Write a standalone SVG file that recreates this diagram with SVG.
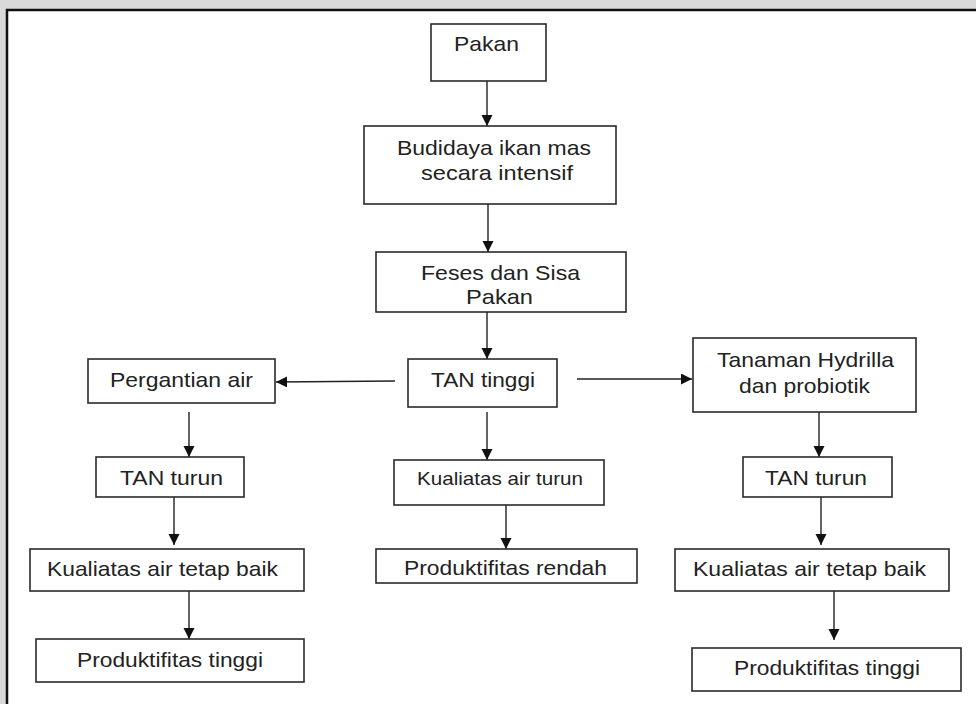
<svg xmlns="http://www.w3.org/2000/svg" width="976" height="704" viewBox="0 0 976 704">
<style>
.box{fill:#fff;stroke:#2a2a2a;stroke-width:1.6}
.t{font-family:"Liberation Sans",Arial,sans-serif;font-size:21px;fill:#222}
.c{stroke:#222;stroke-width:1.4;fill:none;marker-end:url(#ah)}
</style>
<defs>
<marker id="ah" markerUnits="userSpaceOnUse" markerWidth="12" markerHeight="12" refX="11" refY="5.5" orient="auto">
<path d="M0,0 L11,5.5 L0,11 z" fill="#111"/>
</marker>
</defs>
<rect x="0" y="0" width="976" height="704" fill="#d9d9d9"/>
<rect x="7" y="10" width="1000" height="720" fill="#fff" stroke="#111" stroke-width="2.5"/>

<g id="connectors">
<line class="c" x1="487" y1="81" x2="487" y2="126"/>
<line class="c" x1="488" y1="204" x2="488" y2="252"/>
<line class="c" x1="487" y1="312" x2="487" y2="359"/>
<line class="c" x1="395" y1="381" x2="276" y2="382"/>
<line class="c" x1="577" y1="379" x2="692" y2="379"/>
<line class="c" x1="189" y1="412" x2="189" y2="457"/>
<line class="c" x1="174" y1="497" x2="174" y2="545"/>
<line class="c" x1="189" y1="591" x2="189" y2="639"/>
<line class="c" x1="487" y1="412" x2="487" y2="460"/>
<line class="c" x1="506" y1="505" x2="506" y2="549"/>
<line class="c" x1="819" y1="412" x2="819" y2="457"/>
<line class="c" x1="821" y1="497" x2="821" y2="545"/>
<line class="c" x1="834" y1="591" x2="834" y2="640"/>
</g>

<g id="pakan"><rect class="box" x="431" y="24" width="115" height="57"/><text class="t" x="454" y="51" textLength="65" lengthAdjust="spacingAndGlyphs">Pakan</text></g>
<g id="budidaya"><rect class="box" x="364" y="126" width="252" height="78"/><text class="t" x="397" y="155" textLength="194" lengthAdjust="spacingAndGlyphs">Budidaya ikan mas</text><text class="t" x="421" y="180" textLength="152" lengthAdjust="spacingAndGlyphs">secara intensif</text></g>
<g id="feses"><rect class="box" x="376" y="252" width="250" height="60"/><text class="t" x="421" y="280" textLength="159" lengthAdjust="spacingAndGlyphs">Feses dan Sisa</text><text class="t" x="466" y="304" textLength="67" lengthAdjust="spacingAndGlyphs">Pakan</text></g>
<g id="tan-tinggi"><rect class="box" x="408" y="359" width="149" height="48"/><text class="t" x="431" y="387" textLength="104" lengthAdjust="spacingAndGlyphs">TAN tinggi</text></g>
<g id="pergantian"><rect class="box" x="88" y="359" width="187" height="44"/><text class="t" x="110" y="387" textLength="143" lengthAdjust="spacingAndGlyphs">Pergantian air</text></g>
<g id="tanaman"><rect class="box" x="693" y="338" width="223" height="74"/><text class="t" x="717" y="367" textLength="177" lengthAdjust="spacingAndGlyphs">Tanaman Hydrilla</text><text class="t" x="739" y="393" textLength="131" lengthAdjust="spacingAndGlyphs">dan probiotik</text></g>
<g id="tan-turun-kiri"><rect class="box" x="96" y="457" width="148" height="40"/><text class="t" x="120" y="485" textLength="103" lengthAdjust="spacingAndGlyphs">TAN turun</text></g>
<g id="kualitas-turun"><rect class="box" x="394" y="460" width="210" height="45"/><text class="t" x="417" y="485" textLength="166" lengthAdjust="spacingAndGlyphs" style="font-size:19px">Kualiatas  air turun</text></g>
<g id="tan-turun-kanan"><rect class="box" x="743" y="457" width="149" height="40"/><text class="t" x="765" y="485" textLength="102" lengthAdjust="spacingAndGlyphs">TAN turun</text></g>
<g id="kualitas-baik-kiri"><rect class="box" x="30" y="549" width="274" height="42"/><text class="t" x="47" y="576" textLength="231" lengthAdjust="spacingAndGlyphs">Kualiatas air tetap baik</text></g>
<g id="produktifitas-rendah"><rect class="box" x="376" y="549" width="261" height="34"/><text class="t" x="404" y="575" textLength="203" lengthAdjust="spacingAndGlyphs">Produktifitas rendah</text></g>
<g id="kualitas-baik-kanan"><rect class="box" x="675" y="549" width="274" height="42"/><text class="t" x="693" y="576" textLength="233" lengthAdjust="spacingAndGlyphs">Kualiatas air tetap baik</text></g>
<g id="produktifitas-tinggi-kiri"><rect class="box" x="36" y="639" width="268" height="43"/><text class="t" x="77" y="667" textLength="186" lengthAdjust="spacingAndGlyphs">Produktifitas tinggi</text></g>
<g id="produktifitas-tinggi-kanan"><rect class="box" x="692" y="648" width="269" height="43"/><text class="t" x="734" y="675" textLength="186" lengthAdjust="spacingAndGlyphs">Produktifitas tinggi</text></g>
</svg>
